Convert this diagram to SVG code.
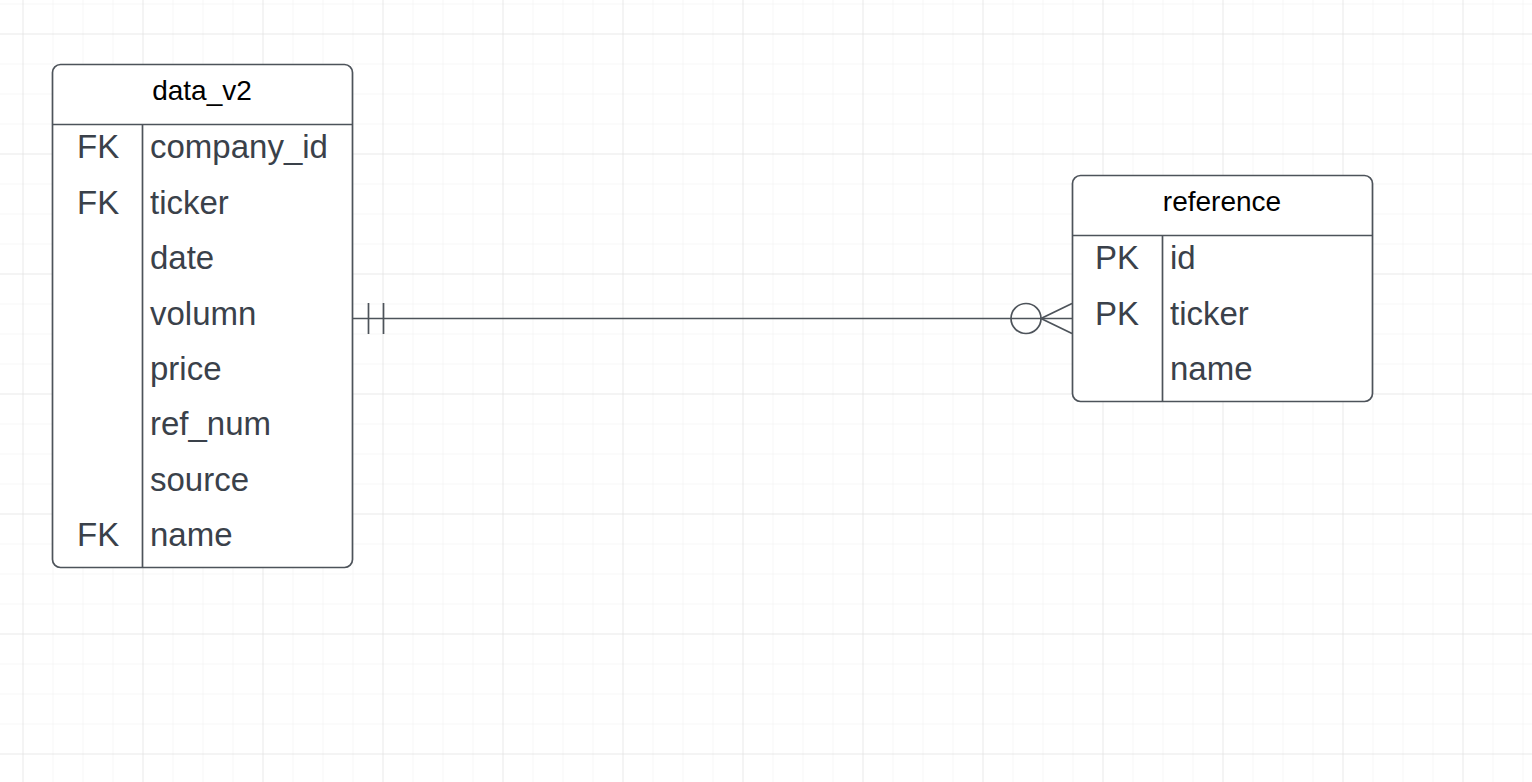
<svg xmlns="http://www.w3.org/2000/svg" width="1532" height="782" viewBox="0 0 1532 782">
<defs>
<pattern id="minor" x="22.5" y="3.5" width="30" height="30" patternUnits="userSpaceOnUse">
<path d="M0 0H30M0 0V30" fill="none" stroke="#eeeeee" stroke-width="1"/>
</pattern>
<pattern id="major" x="22.5" y="33.5" width="120" height="120" patternUnits="userSpaceOnUse">
<path d="M0 0H120M0 0V120" fill="none" stroke="#dedede" stroke-width="1"/>
</pattern>
</defs>
<style>
.box{fill:#ffffff;stroke:#4d535a;stroke-width:1.7}
.ln{fill:none;stroke:#4d535a;stroke-width:1.7}
.hd{font-family:"Liberation Sans",Arial,sans-serif;font-size:28px;fill:#000000;text-anchor:middle}
.tx{font-family:"Liberation Sans",Arial,sans-serif;font-size:33px;fill:#3a414a}
</style>
<rect width="1532" height="782" fill="#ffffff"/>
<rect width="1532" height="782" fill="url(#minor)"/>
<rect width="1532" height="782" fill="url(#major)"/>

<g id="connectors">
<path class="ln" d="M352.5 318.5H1072"/>
<path class="ln" d="M368.5 303V334M383.5 303V334"/>
<circle class="ln" cx="1026" cy="318.5" r="15" fill="#ffffff"/>
<path class="ln" d="M1072 303.5L1041 318.5L1072 333.5"/>
</g>

<g id="data_v2">
<rect class="box" x="52.5" y="64.5" width="300" height="503" rx="8"/>
<path class="ln" d="M52.5 124.5H352.5M142.5 124.5V567.5"/>
<text class="hd" x="202" y="100">data_v2</text>
<text class="tx" x="77" y="158">FK</text>
<text class="tx" x="150" y="158">company_id</text>
<text class="tx" x="77" y="213.5">FK</text>
<text class="tx" x="150" y="213.5">ticker</text>
<text class="tx" x="150" y="269">date</text>
<text class="tx" x="150" y="324.5">volumn</text>
<text class="tx" x="150" y="380">price</text>
<text class="tx" x="150" y="435">ref_num</text>
<text class="tx" x="150" y="490.5">source</text>
<text class="tx" x="77" y="546">FK</text>
<text class="tx" x="150" y="546">name</text>
</g>

<g id="reference">
<rect class="box" x="1072.5" y="175.5" width="300" height="226" rx="8"/>
<path class="ln" d="M1072.5 235.5H1372.5M1162.5 235.5V401.5"/>
<text class="hd" x="1222" y="211">reference</text>
<text class="tx" x="1095" y="269">PK</text>
<text class="tx" x="1170" y="269">id</text>
<text class="tx" x="1095" y="324.5">PK</text>
<text class="tx" x="1170" y="324.5">ticker</text>
<text class="tx" x="1170" y="380">name</text>
</g>
</svg>
